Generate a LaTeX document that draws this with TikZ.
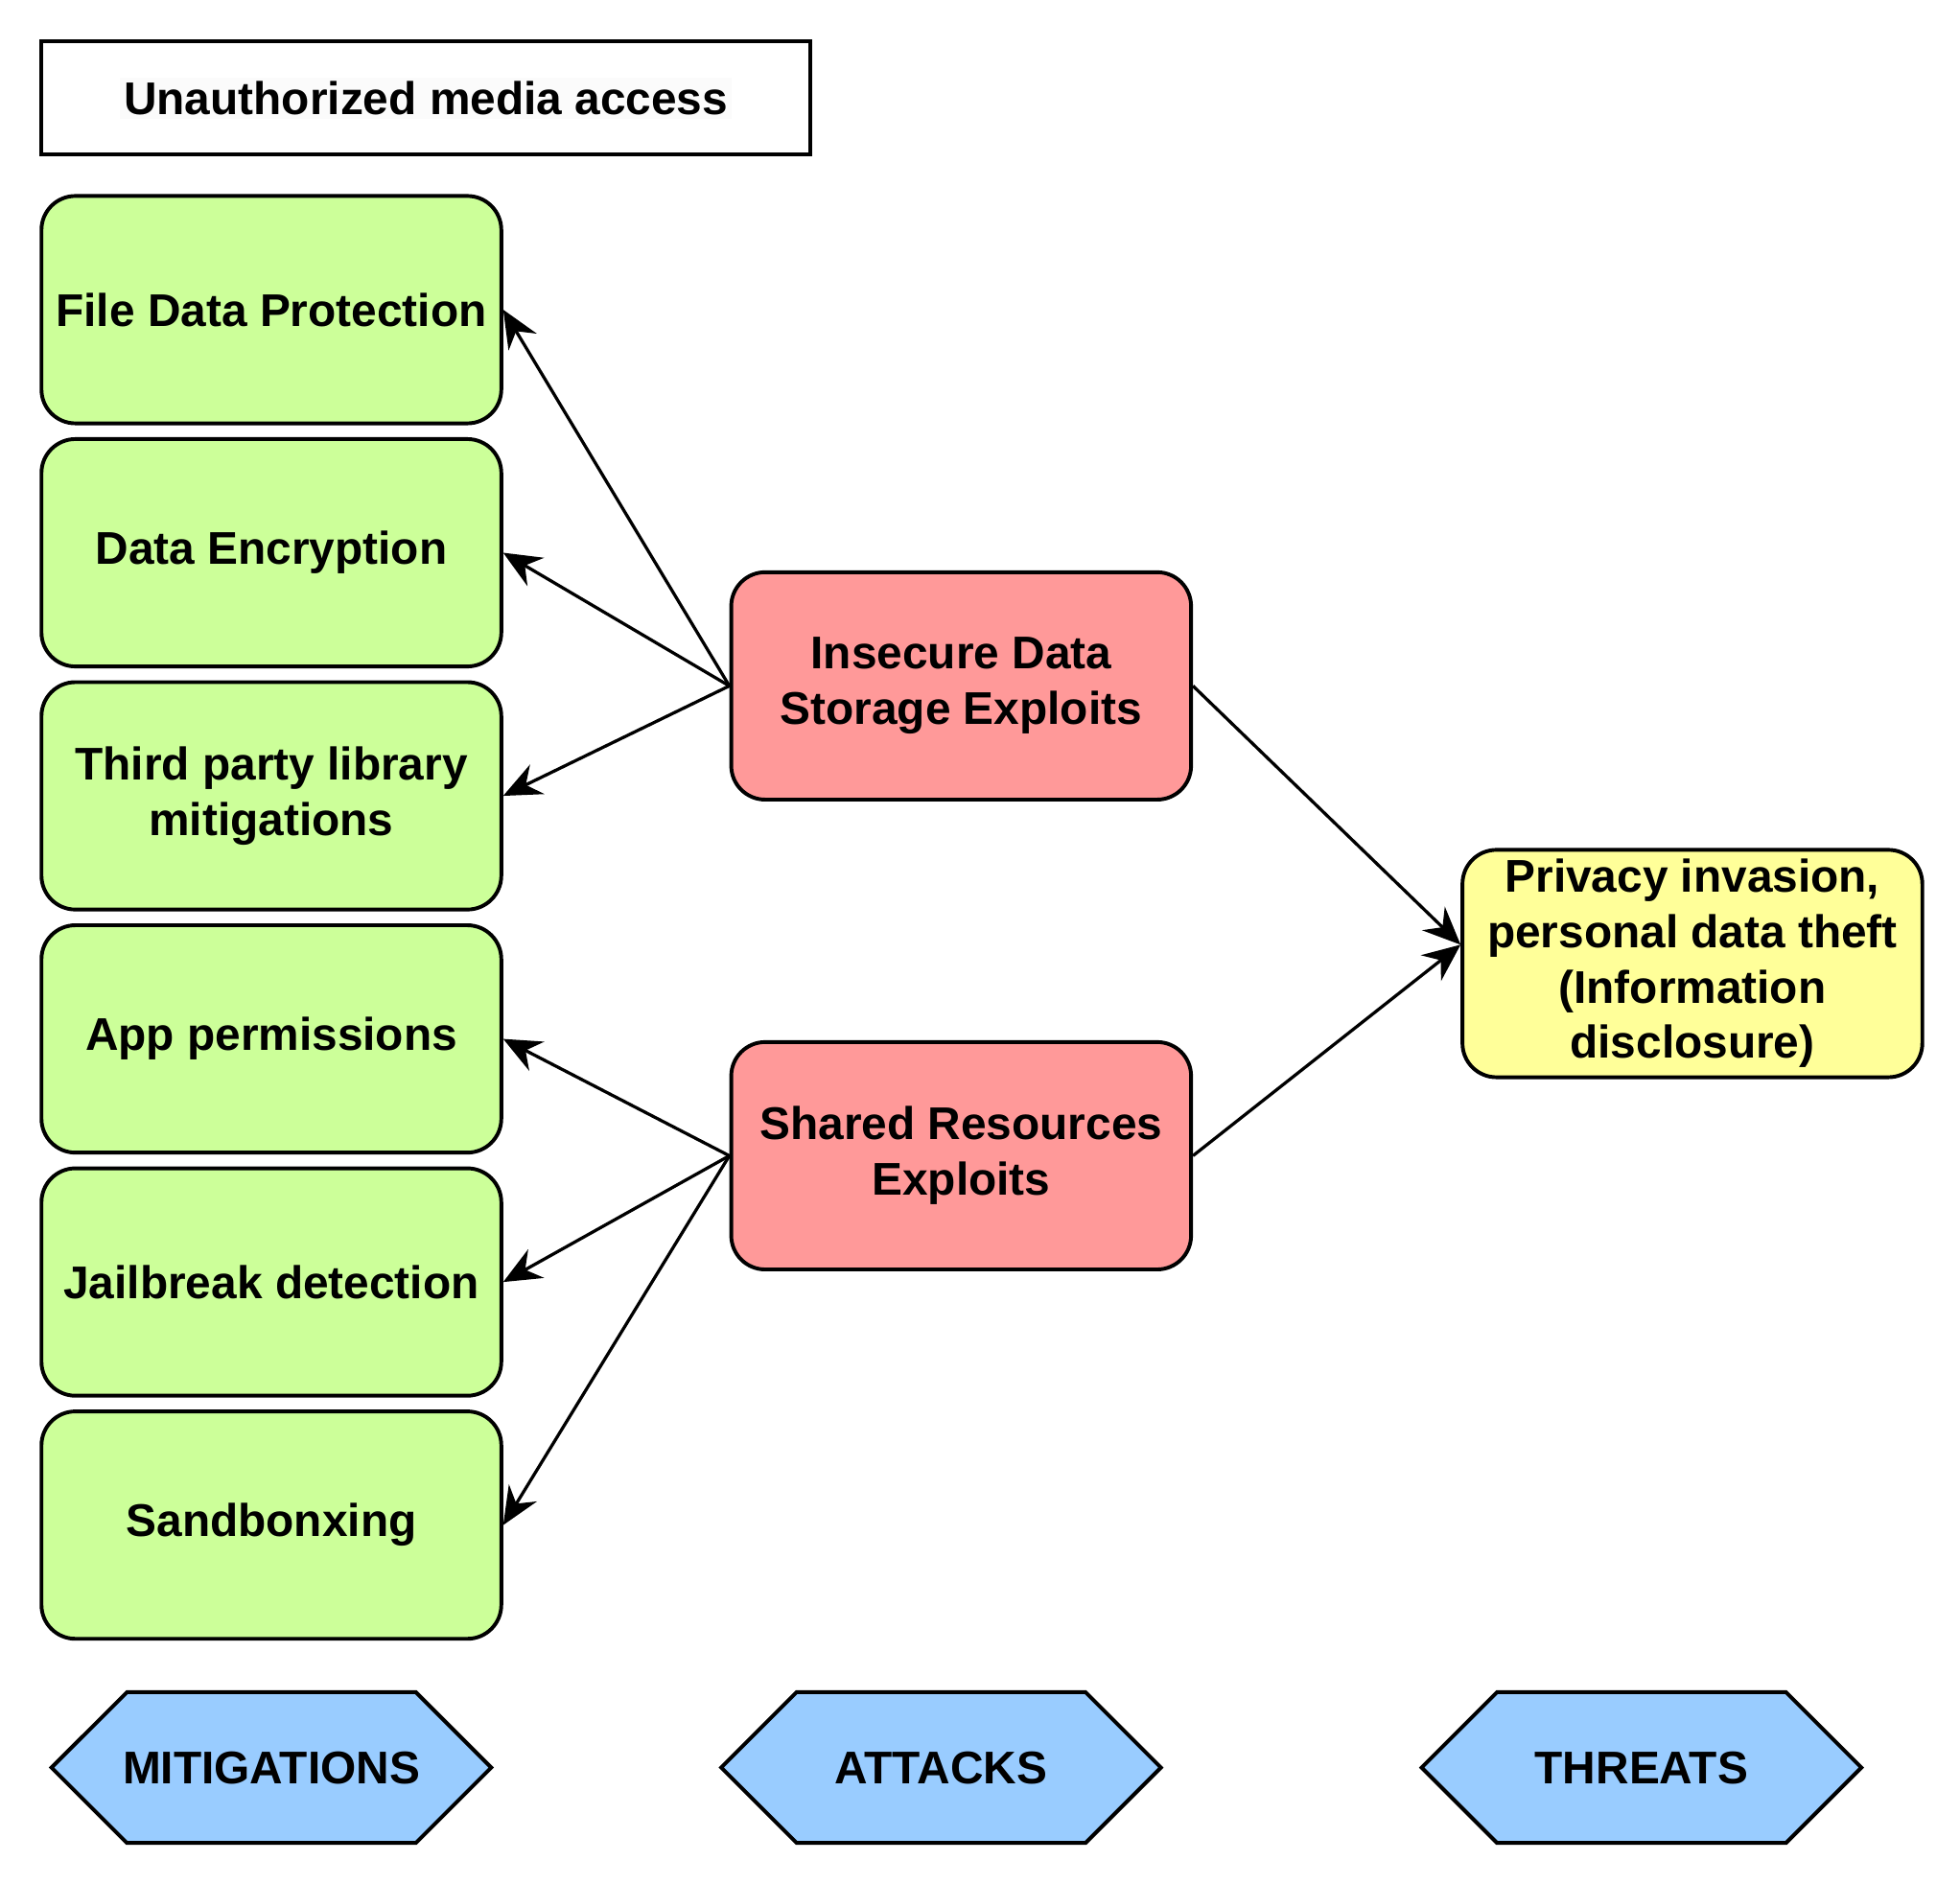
\documentclass[tikz,border=0pt]{standalone}
\usepackage{fontspec}
\setmainfont{Liberation Sans}
\usepackage{xcolor}
\usetikzlibrary{arrows.meta,positioning,shapes,calc}
\definecolor{mitfill}{HTML}{CCFF99}
\definecolor{attfill}{HTML}{FF9999}
\definecolor{thrfill}{HTML}{FFFF99}
\definecolor{tagfill}{HTML}{99CCFF}
\definecolor{labelbg}{HTML}{FBFBFB}

\begin{document}
\begin{tikzpicture}[x=1pt,y=-1pt,->,>={Stealth[length=30pt,width=26pt,inset=10pt]},
	font=\bfseries\fontsize{36.5}{44}\selectfont, node distance=9.5pt,
	box node/.style={rectangle,rounded corners=27pt,draw,line width=3pt,align=center,
		minimum width=366pt,minimum height=181pt,inner sep=0pt},
	mitigation/.style={box node,fill=mitfill},
	attack/.style={box node,fill=attfill},
	threat/.style={box node,fill=thrfill},
	tag node/.style={signal,signal to=east and west,signal pointer angle=90,draw,
		line width=3pt,fill=tagfill,minimum width=350pt,minimum height=120pt,
		inner ysep=0pt,inner xsep=-4pt}]

	\useasboundingbox (0,0) rectangle (1560,1499);

	\node[draw,line width=3pt,minimum width=612pt,minimum height=90pt,inner sep=0pt]
		(title) at (339,78) {\colorbox{labelbg}{Unauthorized media access}};

	% mitigations
	\node[mitigation] (fdp) at (216,246.5) {File Data Protection};
	\node[mitigation] (enc) [below=of fdp] {Data Encryption};
	\node[mitigation] (lib) [below=of enc] {Third party library\\mitigations};
	\node[mitigation] (perm) [below=of lib] {App permissions};
	\node[mitigation] (jail) [below=of perm] {Jailbreak detection};
	\node[mitigation] (sand) [below=of jail] {Sandbonxing};

	% attacks and threat
	\node[attack] (ids) at (765,546) {Insecure Data\\Storage Exploits};
	\node[attack] (shr) at (765,920) {Shared Resources\\Exploits};
	\node[threat] (priv) at (1347,767) {Privacy invasion,\\personal data theft\\(Information\\disclosure)};

	% legend
	\node[tag node] (tmit) at (216,1407) {MITIGATIONS};
	\node[tag node] (tatt) at (749,1407) {ATTACKS};
	\node[tag node] (tthr) at (1306.5,1407) {THREATS};

	\path[line width=2.5pt]
	(ids.west) edge (fdp.east)
	(ids.west) edge (enc.east)
	(ids.west) edge (lib.east)
	(shr.west) edge (perm.east)
	(shr.west) edge (jail.east)
	(shr.west) edge (sand.east)
	(ids.east) edge ([yshift=15pt]priv.west)
	(shr.east) edge ([yshift=15pt]priv.west);

\end{tikzpicture}
\end{document}
